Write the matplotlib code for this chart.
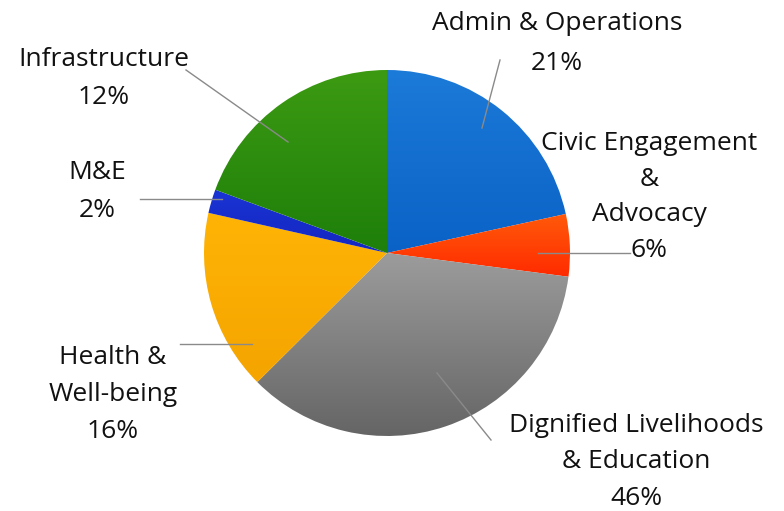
import numpy as np
import matplotlib
matplotlib.use("Agg")
import matplotlib.pyplot as plt
from matplotlib.colors import LinearSegmentedColormap

# wedge sizes (clockwise from 12 o'clock)
categories = ["Admin & Operations", "Civic Engagement\n&\nAdvocacy",
              "Dignified Livelihoods\n& Education", "Health &\nWell-being",
              "M&E", "Infrastructure"]
sizes = [21.6, 5.5, 35.5, 16.0, 2.1, 19.4]
pct_labels = ["21%", "6%", "46%", "16%", "2%", "12%"]

# top / bottom colours of each wedge's gradient
top_colors = ["#1c7ad8", "#ff5a0a", "#9c9c9c", "#ffb405", "#1a34d4", "#3c9a12"]
bottom_colors = ["#0a62c6", "#ff2a00", "#656565", "#f5a400", "#1426c0", "#1e7f0a"]

W, H = 784, 511
plt.rcParams["font.family"] = ["Open Sans", "DejaVu Sans"]
fig = plt.figure(figsize=(W / 100, H / 100), dpi=100)
ax = fig.add_axes([0, 0, 1, 1])

def py(y):
    # pixel row -> data y
    return H - y

cx, cy, r = 387, py(253), 183
wedges, _ = ax.pie(sizes, startangle=90, counterclock=False, radius=r,
                   center=(cx, cy), frame=True,
                   wedgeprops=dict(linewidth=0))
ax.set_xlim(0, W)
ax.set_ylim(0, H)
ax.set_aspect("equal")
ax.axis("off")

for w, c1, c2 in zip(wedges, top_colors, bottom_colors):
    w.set_facecolor("none")
    ext = w.get_path().get_extents(w.get_transform() + ax.transData.inverted())
    cmap = LinearSegmentedColormap.from_list("g", [c2, c1])
    grad = np.linspace(0, 1, 256).reshape(-1, 1)
    im = ax.imshow(grad, cmap=cmap, origin="lower", aspect="auto",
                   extent=(ext.x0, ext.x1, ext.y0, ext.y1), zorder=1)
    im.set_clip_path(w)

# leader lines (pixel coords)
leaders = [
    [(482, 128), (500, 60)],
    [(538, 253), (630, 253)],
    [(437, 373), (491, 440)],
    [(252, 344), (180, 344)],
    [(222, 199), (140, 199)],
    [(288, 142), (186, 70)],
]
for seg in leaders:
    xs = [p[0] for p in seg]
    ys = [py(p[1]) for p in seg]
    ax.plot(xs, ys, color="#8a8a8a", lw=1, zorder=3)

# label positions: (center x, top of text in pixels, line spacing)
label_pos = [(557, 11, 1.78), (649, 131, 1.56), (636, 413, 1.6),
             (113, 345, 1.62), (97, 160, 1.68), (104, 47, 1.68)]
for name, pct, (x, y, ls) in zip(categories, pct_labels, label_pos):
    ax.text(x, py(y), name + "\n" + pct, ha="center", va="top",
            fontsize=19, linespacing=ls, color="#111111")

fig.savefig("out.png", dpi=100)
